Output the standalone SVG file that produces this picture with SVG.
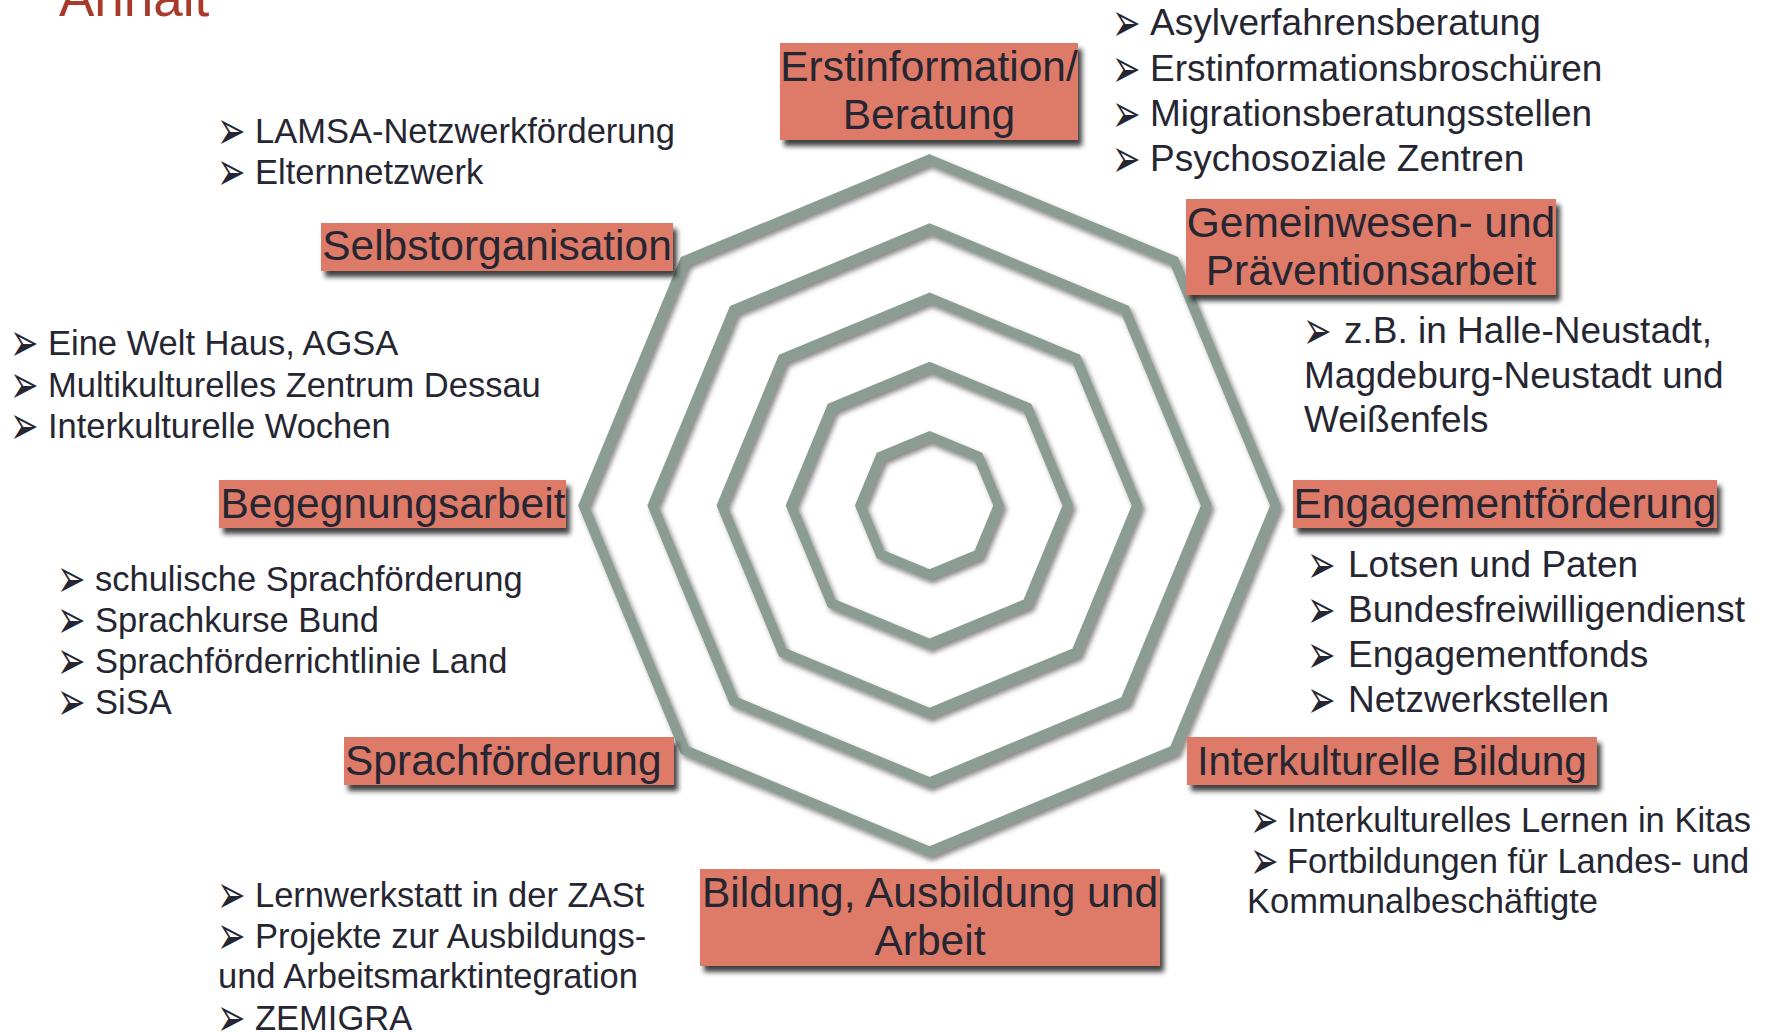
<svg xmlns="http://www.w3.org/2000/svg" width="1770" height="1034" viewBox="0 0 1770 1034">
<defs>
<filter id="boxShadow" x="-10%" y="-20%" width="125%" height="160%">
<feDropShadow dx="4" dy="6" stdDeviation="2.5" flood-color="#1e1e24" flood-opacity="0.85"/>
</filter>
<filter id="webShadow" x="-10%" y="-10%" width="125%" height="125%">
<feDropShadow dx="3" dy="4" stdDeviation="2.5" flood-color="#3a3a3a" flood-opacity="0.6"/>
</filter>
<text id="b" x="-3" y="3.7" transform="scale(1,1.6)" style="font-family:'DejaVu Sans',sans-serif;font-size:34px;fill:#262632">➢</text>
</defs>
<style>
.ring{fill:none;stroke:#8b9d92;stroke-width:10;stroke-linejoin:miter}
.box{fill:#dd7a68}
.lbl{font-family:"Liberation Sans",Arial,sans-serif;font-size:42.5px;fill:#262632}
.lbl-c{text-anchor:middle}
.itm{font-family:"Liberation Sans",Arial,sans-serif;font-size:34.5px;fill:#262632}
.itm-l{font-size:37px}
.title{font-family:"Liberation Sans",Arial,sans-serif;font-size:53px;fill:#a8392b}
</style>
<rect width="1770" height="1034" fill="#ffffff"/>
<text class="title" x="59" y="16">Anhalt</text>

<g id="web" filter="url(#webShadow)">
<polygon class="ring" points="929.5,159.5 1174.2,260.8 1275.5,505.5 1174.2,750.2 929.5,851.5 684.8,750.2 583.5,505.5 684.8,260.8"/>
<polygon class="ring" points="929.5,228.7 1125.2,309.8 1206.3,505.5 1125.2,701.2 929.5,782.3 733.8,701.2 652.7,505.5 733.8,309.8"/>
<polygon class="ring" points="929.5,297.9 1076.3,358.7 1137.1,505.5 1076.3,652.3 929.5,713.1 782.7,652.3 721.9,505.5 782.7,358.7"/>
<polygon class="ring" points="929.5,367.1 1027.4,407.6 1067.9,505.5 1027.4,603.4 929.5,643.9 831.6,603.4 791.1,505.5 831.6,407.6"/>
<polygon class="ring" points="929.5,436.3 978.4,456.6 998.7,505.5 978.4,554.4 929.5,574.7 880.6,554.4 860.3,505.5 880.6,456.6"/>
</g>
<g id="connectors"></g>

<g id="node-erstinformation">
<rect class="box" x="780" y="43" width="298" height="97" filter="url(#boxShadow)"/>
<text class="lbl lbl-c" x="929" y="81">Erstinformation/</text>
<text class="lbl lbl-c" x="929" y="129">Beratung</text>
</g>
<g id="list-erstinformation">
<use href="#b" x="1115" y="35"/>
<text class="itm itm-l" x="1150" y="35">Asylverfahrensberatung</text>
<use href="#b" x="1115" y="81"/>
<text class="itm itm-l" x="1150" y="81">Erstinformationsbroschüren</text>
<use href="#b" x="1115" y="126"/>
<text class="itm itm-l" x="1150" y="126">Migrationsberatungsstellen</text>
<use href="#b" x="1115" y="171"/>
<text class="itm itm-l" x="1150" y="171">Psychosoziale Zentren</text>
</g>

<g id="node-gemeinwesen">
<rect class="box" x="1186" y="199" width="370" height="96" filter="url(#boxShadow)"/>
<text class="lbl lbl-c" x="1371" y="237">Gemeinwesen- und</text>
<text class="lbl lbl-c" x="1371" y="285">Präventionsarbeit</text>
</g>
<g id="list-gemeinwesen">
<use href="#b" x="1306" y="343"/>
<text class="itm itm-l" x="1344" y="343">z.B. in Halle-Neustadt,</text>
<text class="itm itm-l" x="1304" y="388">Magdeburg-Neustadt und</text>
<text class="itm itm-l" x="1304" y="432">Weißenfels</text>
</g>

<g id="node-engagement">
<rect class="box" x="1293" y="480" width="424" height="48" filter="url(#boxShadow)"/>
<text class="lbl lbl-c" x="1505" y="518">Engagementförderung</text>
</g>
<g id="list-engagement">
<use href="#b" x="1310" y="577"/>
<text class="itm itm-l" x="1348" y="577">Lotsen und Paten</text>
<use href="#b" x="1310" y="622"/>
<text class="itm itm-l" x="1348" y="622">Bundesfreiwilligendienst</text>
<use href="#b" x="1310" y="667"/>
<text class="itm itm-l" x="1348" y="667">Engagementfonds</text>
<use href="#b" x="1310" y="712"/>
<text class="itm itm-l" x="1348" y="712">Netzwerkstellen</text>
</g>

<g id="node-interkulturelle-bildung">
<rect class="box" x="1187" y="737" width="410" height="48" filter="url(#boxShadow)"/>
<text class="lbl lbl-c" x="1392" y="775" style="font-size:40.5px">Interkulturelle Bildung</text>
</g>
<g id="list-interkulturelle-bildung">
<use href="#b" x="1253" y="832"/>
<text class="itm" x="1287" y="832">Interkulturelles Lernen in Kitas</text>
<use href="#b" x="1253" y="873"/>
<text class="itm" x="1287" y="873">Fortbildungen für Landes- und</text>
<text class="itm" x="1247" y="913">Kommunalbeschäftigte</text>
</g>

<g id="node-bildung">
<rect class="box" x="700" y="869" width="460" height="97" filter="url(#boxShadow)"/>
<text class="lbl lbl-c" x="930" y="907">Bildung, Ausbildung und</text>
<text class="lbl lbl-c" x="930" y="955">Arbeit</text>
</g>
<g id="list-bildung">
<use href="#b" x="220" y="907"/>
<text class="itm" x="255" y="907">Lernwerkstatt in der ZASt</text>
<use href="#b" x="220" y="948"/>
<text class="itm" x="255" y="948">Projekte zur Ausbildungs-</text>
<text class="itm" x="218" y="988">und Arbeitsmarktintegration</text>
<use href="#b" x="220" y="1030"/>
<text class="itm" x="255" y="1030">ZEMIGRA</text>
</g>

<g id="node-sprachfoerderung">
<rect class="box" x="344" y="737" width="330" height="48" filter="url(#boxShadow)"/>
<text class="lbl" x="345" y="775">Sprachförderung</text>
</g>
<g id="list-sprachfoerderung">
<use href="#b" x="60" y="591"/>
<text class="itm" x="95" y="591">schulische Sprachförderung</text>
<use href="#b" x="60" y="632"/>
<text class="itm" x="95" y="632">Sprachkurse Bund</text>
<use href="#b" x="60" y="673"/>
<text class="itm" x="95" y="673">Sprachförderrichtlinie Land</text>
<use href="#b" x="60" y="714"/>
<text class="itm" x="95" y="714">SiSA</text>
</g>

<g id="node-begegnung">
<rect class="box" x="219" y="480" width="347" height="48" filter="url(#boxShadow)"/>
<text class="lbl lbl-c" x="393" y="518">Begegnungsarbeit</text>
</g>
<g id="list-begegnung">
<use href="#b" x="13" y="355"/>
<text class="itm" x="48" y="355">Eine Welt Haus, AGSA</text>
<use href="#b" x="13" y="397"/>
<text class="itm" x="48" y="397">Multikulturelles Zentrum Dessau</text>
<use href="#b" x="13" y="438"/>
<text class="itm" x="48" y="438">Interkulturelle Wochen</text>
</g>

<g id="node-selbstorganisation">
<rect class="box" x="321" y="223" width="352" height="48" filter="url(#boxShadow)"/>
<text class="lbl lbl-c" x="497" y="260">Selbstorganisation</text>
</g>
<g id="list-selbstorganisation">
<use href="#b" x="220" y="143"/>
<text class="itm" x="255" y="143">LAMSA-Netzwerkförderung</text>
<use href="#b" x="220" y="184"/>
<text class="itm" x="255" y="184">Elternnetzwerk</text>
</g>
</svg>
